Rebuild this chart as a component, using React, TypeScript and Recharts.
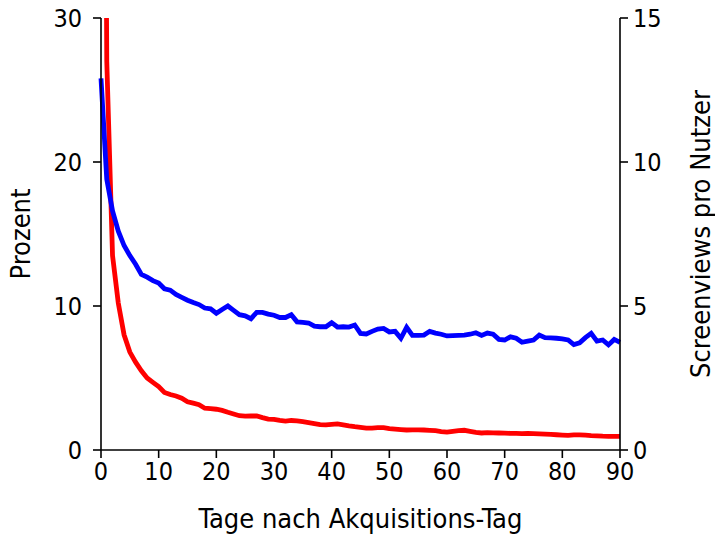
import React from "react"
import { LineChart, Line, XAxis, YAxis } from "recharts"

const days = [
  0, 1, 2, 3, 4, 5, 6, 7, 8, 9, 10, 11, 12, 13, 14, 15, 16, 17, 18, 19, 20, 21, 22, 23, 24, 25, 26, 27, 28, 29,
  30, 31, 32, 33, 34, 35, 36, 37, 38, 39, 40, 41, 42, 43, 44, 45, 46, 47, 48, 49, 50, 51, 52, 53, 54, 55, 56, 57, 58, 59,
  60, 61, 62, 63, 64, 65, 66, 67, 68, 69, 70, 71, 72, 73, 74, 75, 76, 77, 78, 79, 80, 81, 82, 83, 84, 85, 86, 87, 88, 89,
  90,
]

// Prozent (linke Achse)
const retention = [
  100, 27, 13.5, 10.2, 8.0, 6.8, 6.1, 5.5, 5.0, 4.7, 4.4, 4.0, 3.85, 3.75, 3.6, 3.35, 3.25, 3.15, 2.9, 2.87,
  2.83, 2.75, 2.62, 2.5, 2.38, 2.35, 2.36, 2.36, 2.25, 2.15, 2.12, 2.05, 2.01, 2.05, 2.03, 1.97, 1.9, 1.83, 1.76, 1.74,
  1.78, 1.81, 1.75, 1.68, 1.62, 1.57, 1.52, 1.52, 1.55, 1.55, 1.48, 1.45, 1.42, 1.39, 1.4, 1.4, 1.39, 1.37, 1.34, 1.28,
  1.24, 1.3, 1.35, 1.37, 1.3, 1.22, 1.18, 1.2, 1.19, 1.18, 1.17, 1.16, 1.15, 1.14, 1.15, 1.14, 1.12, 1.1, 1.08, 1.06,
  1.04, 1.02, 1.05, 1.05, 1.03, 1.0, 0.98, 0.96, 0.95, 0.95, 0.95,
]

// Screenviews pro Nutzer (rechte Achse)
const screenviews = [
  12.9, 9.4, 8.3, 7.6, 7.1, 6.75, 6.45, 6.1, 6.0, 5.88, 5.8, 5.6, 5.55, 5.4, 5.3, 5.2, 5.12, 5.05, 4.93, 4.9,
  4.75, 4.88, 5.0, 4.85, 4.7, 4.66, 4.56, 4.78, 4.78, 4.72, 4.68, 4.6, 4.6, 4.7, 4.45, 4.43, 4.41, 4.3, 4.28, 4.28,
  4.42, 4.27, 4.28, 4.27, 4.34, 4.05, 4.03, 4.12, 4.2, 4.22, 4.1, 4.12, 3.88, 4.26, 3.98, 3.98, 3.99, 4.12, 4.06, 4.02,
  3.96, 3.97, 3.98, 3.99, 4.02, 4.07, 3.98, 4.06, 4.02, 3.84, 3.82, 3.93, 3.88, 3.74, 3.78, 3.82, 3.99, 3.9, 3.89, 3.88,
  3.86, 3.82, 3.66, 3.72, 3.9, 4.05, 3.78, 3.82, 3.65, 3.84, 3.74,
]

const xTicks = [0, 10, 20, 30, 40, 50, 60, 70, 80, 90]
const leftTicks = [0, 10, 20, 30]
const rightTicks = [0, 5, 10, 15]

const data = days.map((d, i) => ({ day: d, pct: retention[i], views: screenviews[i] }))

const font = "'DejaVu Sans Condensed', 'DejaVu Sans', sans-serif"
const tickStyle = { fill: "#000", fontSize: 25, fontFamily: font }
const labelStyle = { fill: "#000", fontSize: 27, fontFamily: font, textAnchor: "middle" as const }

export default function App() {
  return (
    <div style={{ position: "absolute", left: 0, top: 0, background: "#fff" }}>
      <LineChart width={715} height={536} data={data} margin={{ top: 18, right: 0, bottom: 0, left: 0 }}>
        <XAxis
          dataKey="day"
          type="number"
          domain={[0, 90]}
          ticks={xTicks}
          height={86}
          tickSize={8}
          tickMargin={4}
          stroke="#000"
          strokeWidth={1.6}
          tick={tickStyle}
          label={{ value: "Tage nach Akquisitions-Tag", position: "insideBottom", offset: 8, style: labelStyle }}
        />
        <XAxis xAxisId="top" orientation="top" dataKey="day" type="number" domain={[0, 90]} height={0} tick={false} tickLine={false} stroke="#000" strokeWidth={1.6} />
        <YAxis
          yAxisId="left"
          domain={[0, 30]}
          ticks={leftTicks}
          allowDataOverflow
          width={101}
          tickSize={8}
          tickMargin={11}
          stroke="#000"
          strokeWidth={1.6}
          tick={tickStyle}
          label={{ value: "Prozent", angle: -90, position: "insideLeft", offset: 20, style: labelStyle }}
        />
        <YAxis
          yAxisId="right"
          orientation="right"
          domain={[0, 15]}
          ticks={rightTicks}
          allowDataOverflow
          width={95}
          tickSize={8}
          tickMargin={5}
          stroke="#000"
          strokeWidth={1.6}
          tick={tickStyle}
          label={{ value: "Screenviews pro Nutzer", angle: -90, position: "insideRight", offset: 15, style: labelStyle }}
        />
        <Line yAxisId="left" dataKey="pct" stroke="#ff0000" strokeWidth={4.8} dot={false} isAnimationActive={false} />
        <Line yAxisId="right" dataKey="views" stroke="#0000ff" strokeWidth={4.8} dot={false} isAnimationActive={false} />
      </LineChart>
    </div>
  )
}
